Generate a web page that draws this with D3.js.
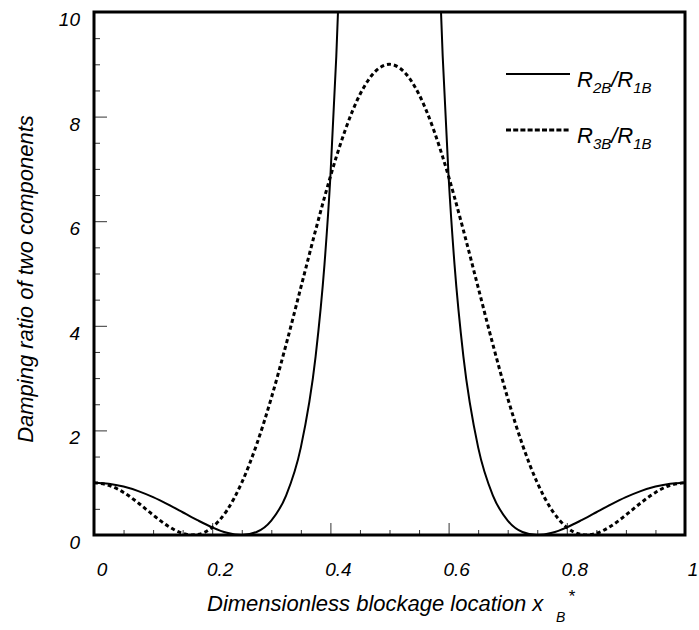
<!DOCTYPE html>
<html>
<head>
<meta charset="utf-8">
<script src="https://cdn.jsdelivr.net/npm/d3@7"></script>
<style>
  body { margin: 0; background: #fff; }
  text { font-family: "Liberation Sans", Arial, sans-serif; font-style: italic; fill: #000; }
</style>
</head>
<body>
<svg id="chart" width="699" height="630"></svg>
<script>
// Damping ratio of two components vs. blockage location

const width = 699, height = 630;
const margin = { top: 12, right: 14, bottom: 95, left: 94 };
const innerWidth  = width  - margin.left - margin.right;
const innerHeight = height - margin.top  - margin.bottom;

// x positions
const xB = [0, 0.025, 0.05, 0.075, 0.1, 0.125, 0.15, 0.165, 0.175, 0.2, 0.225, 0.25,
  0.275, 0.3, 0.325, 0.35, 0.375, 0.39, 0.4, 0.41, 0.415, 0.425, 0.45, 0.475, 0.5,
  0.525, 0.55, 0.575, 0.585, 0.59, 0.6, 0.61, 0.625, 0.65, 0.675, 0.7, 0.725, 0.75,
  0.775, 0.8, 0.825, 0.835, 0.85, 0.875, 0.9, 0.925, 0.95, 0.975, 1];

// R2B/R1B (solid) – runs off the top near the middle
const r2 = [1.000, 0.982, 0.927, 0.840, 0.724, 0.586, 0.435, 0.343, 0.284, 0.146, 0.042, 0,
  0.058, 0.276, 0.755, 1.676, 3.414, 5.174, 6.854, 9.159, 10.64, null, null, null, null,
  null, null, null, 10.64, 9.159, 6.854, 5.174, 3.414, 1.676, 0.755, 0.276, 0.058, 0,
  0.042, 0.146, 0.284, 0.343, 0.435, 0.586, 0.724, 0.840, 0.927, 0.982, 1.000];

// R3B/R1B (dotted)
const r3 = [1.000, 0.951, 0.814, 0.612, 0.382, 0.172, 0.031, 0.000, 0.008, 0.146, 0.472, 1.000,
  1.724, 2.618, 3.640, 4.733, 5.828, 6.457, 6.854, 7.229, 7.406, 7.740, 8.422, 8.853, 9.000,
  8.853, 8.422, 7.740, 7.406, 7.229, 6.854, 6.457, 5.828, 4.733, 3.640, 2.618, 1.724, 1.000,
  0.472, 0.146, 0.008, 0.000, 0.031, 0.172, 0.382, 0.612, 0.814, 0.951, 1.000];

const xTickLabels = ["0", "0.2", "0.4", "0.6", "0.8", "1"];
const yTickLabels = ["0", "2", "4", "6", "8", "10"];

const svg = d3.select("#chart");
const g = svg.append("g")
  .attr("transform", `translate(${margin.left},${margin.top})`);

const x = d3.scaleLinear().domain([0, 1]).range([0, innerWidth]);
const y = d3.scaleLinear().domain([0, 10]).range([innerHeight, 0]);

// clip the curves to the frame
svg.append("defs").append("clipPath").attr("id", "clip")
  .append("rect").attr("width", innerWidth).attr("height", innerHeight);

// ticks inside the frame
g.append("g")
  .call(d3.axisLeft(y).tickValues(d3.range(0, 10.01, 0.5)).tickFormat("")
    .tickSizeOuter(0).tickSizeInner(0))
  .call(a => a.select(".domain").remove())
  .selectAll(".tick line")
  .attr("x2", d => Math.abs(d % 2) < 1e-6 ? 13 : 6)
  .attr("stroke", "#333");

g.append("g")
  .attr("transform", `translate(0,${innerHeight})`)
  .call(d3.axisBottom(x).tickValues(d3.range(0, 1.001, 0.05)).tickFormat("")
    .tickSizeOuter(0).tickSizeInner(0))
  .call(a => a.select(".domain").remove())
  .selectAll(".tick line")
  .attr("y2", d => Math.abs(Math.round(d * 5) - d * 5) < 1e-6 ? -12 : -5)
  .attr("stroke", "#333");

// tick labels
g.selectAll(".ylab")
  .data(yTickLabels)
  .join("text")
  .attr("x", -14)
  .attr("y", d => y(+d) + 14)
  .attr("text-anchor", "end")
  .attr("font-size", 19)
  .text(d => d);

g.selectAll(".xlab")
  .data(xTickLabels)
  .join("text")
  .attr("x", d => x(+d) + 8)
  .attr("y", innerHeight + 41)
  .attr("text-anchor", "middle")
  .attr("font-size", 19)
  .text(d => d);

// curves
const line = d3.line()
  .defined(d => d != null)
  .x((d, i) => x(xB[i]))
  .y(d => y(d))
  .curve(d3.curveMonotoneX);

const curves = g.append("g").attr("clip-path", "url(#clip)");
curves.append("path")
  .attr("d", line(r3))
  .attr("fill", "none")
  .attr("stroke", "#000")
  .attr("stroke-width", 3)
  .attr("stroke-dasharray", "4,3");
curves.append("path")
  .attr("d", line(r2))
  .attr("fill", "none")
  .attr("stroke", "#000")
  .attr("stroke-width", 2);

// frame
g.append("rect")
  .attr("width", innerWidth)
  .attr("height", innerHeight)
  .attr("fill", "none")
  .attr("stroke", "#000")
  .attr("stroke-width", 3);

// legend
const legend = [
  { num: "2B", dash: null },
  { num: "3B", dash: "5,2.2" }
];
const lg = g.selectAll(".legend")
  .data(legend)
  .join("g")
  .attr("transform", (d, i) => `translate(412,${62 + i * 56})`);
lg.append("line")
  .attr("x1", 0).attr("x2", 64)
  .attr("stroke", "#000")
  .attr("stroke-width", d => d.dash ? 3 : 2)
  .attr("stroke-dasharray", d => d.dash);
const lt = lg.append("text")
  .attr("x", 71).attr("y", 13)
  .attr("font-size", 22);
lt.append("tspan").text("R");
lt.append("tspan").attr("dy", 6).attr("font-size", 15).text(d => d.num);
lt.append("tspan").attr("dy", -6).text("/R");
lt.append("tspan").attr("dy", 6).attr("font-size", 15).text("1B");

// axis titles
const xt = svg.append("text")
  .attr("x", 207).attr("y", 611)
  .attr("font-size", 22);
xt.append("tspan").text("Dimensionless blockage location x");
xt.append("tspan").attr("x", 556).attr("y", 622).attr("font-size", 14).text("B");
xt.append("tspan").attr("x", 568).attr("y", 602).attr("font-size", 17).text("*");

svg.append("text")
  .attr("transform", "translate(33,279) rotate(-90)")
  .attr("text-anchor", "middle")
  .attr("font-size", 22)
  .text("Damping ratio of two components");
</script>
</body>
</html>
